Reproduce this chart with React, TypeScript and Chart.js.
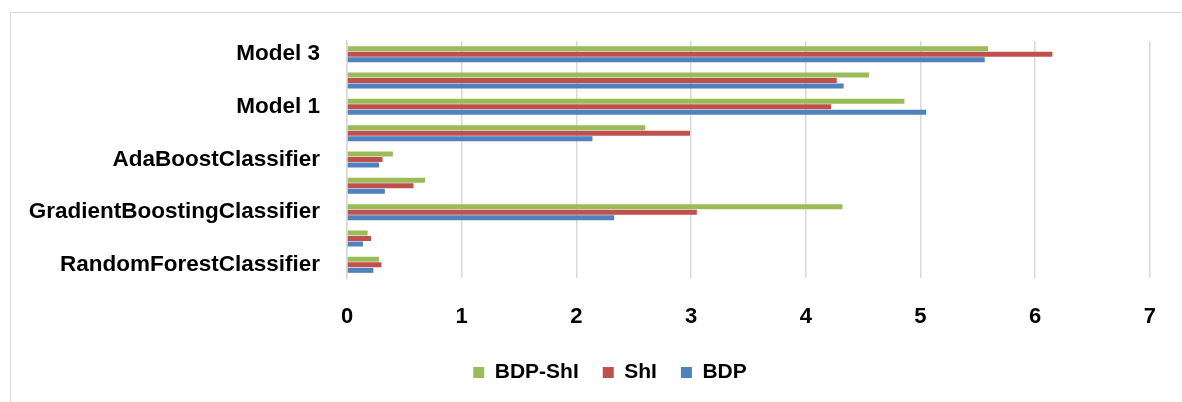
import React, { useEffect, useRef } from "react";
import { Chart, registerables } from "chart.js";

Chart.register(...registerables);

const categories = [
  "Model 3",
  "Model 2",
  "Model 1",
  "XGBClassifier",
  "AdaBoostClassifier",
  "BaggingClassifier",
  "GradientBoostingClassifier",
  "DecisionTreeClassifier",
  "RandomForestClassifier",
];

const bdpShI = [5.59, 4.55, 4.86, 2.6, 0.4, 0.68, 4.32, 0.18, 0.28];
const shI = [6.15, 4.27, 4.22, 2.99, 0.31, 0.58, 3.05, 0.21, 0.3];
const bdp = [5.56, 4.33, 5.05, 2.14, 0.28, 0.33, 2.33, 0.14, 0.23];

const xTicks = [0, 1, 2, 3, 4, 5, 6, 7];

const FONT = "'Liberation Sans', Arial, sans-serif";

const shiftLegend = {
  id: "shiftLegend",
  afterLayout(chart: any) {
    const l = chart.legend;
    if (l) {
      l.left += 26;
      l.right += 26;
    }
  },
};

export default function App() {
  const canvasRef = useRef<HTMLCanvasElement | null>(null);

  useEffect(() => {
    if (!canvasRef.current) return;
    const chart = new Chart(canvasRef.current, {
      type: "bar",
      data: {
        labels: categories,
        datasets: [
          { label: "BDP-ShI", data: bdpShI, backgroundColor: "#9BBB59" },
          { label: "ShI", data: shI, backgroundColor: "#C0504D" },
          { label: "BDP", data: bdp, backgroundColor: "#4F81BD" },
        ],
      },
      plugins: [shiftLegend],
      options: {
        indexAxis: "y",
        animation: false,
        responsive: true,
        maintainAspectRatio: false,
        datasets: {
          bar: { barPercentage: 0.9, categoryPercentage: 0.63 },
        },
        layout: { padding: { top: 41, right: 14, bottom: 9, left: 0 } },
        scales: {
          x: {
            min: 0,
            max: 7,
            afterBuildTicks: (scale: any) => {
              scale.ticks = xTicks.map((v) => ({ value: v }));
            },
            afterFit: (scale: any) => {
              scale.height = 60;
            },
            grid: { color: "#d9d9d9", lineWidth: 1.5, drawTicks: false },
            border: { display: false },
            ticks: {
              padding: 26,
              color: "#000",
              font: { family: FONT, size: 22, weight: "bold" },
            },
          },
          y: {
            afterFit: (scale: any) => {
              scale.width = 347;
            },
            grid: { display: false, drawTicks: false },
            border: { display: true, color: "#d9d9d9", width: 1.5 },
            ticks: {
              autoSkip: false,
              padding: 27,
              color: "#000",
              font: { family: FONT, size: 22.5, weight: "bold" },
              callback: (_v: any, i: number) => (i % 2 === 0 ? categories[i] : ""),
            },
          },
        },
        plugins: {
          tooltip: { enabled: false },
          legend: {
            position: "bottom",
            labels: {
              boxWidth: 11,
              boxHeight: 11,
              padding: 24,
              color: "#000",
              font: { family: FONT, size: 21, weight: "bold" },
            },
          },
        },
      },
    });
    return () => chart.destroy();
  }, []);

  return (
    <div
      style={{
        position: "fixed",
        left: 0,
        top: 0,
        width: 1182,
        height: 402,
        background: "#fff",
        overflow: "hidden",
      }}
    >
      <div
        style={{
          position: "absolute",
          left: 10,
          top: 12,
          width: 1200,
          height: 420,
          borderTop: "1.5px solid #d9d9d9",
          borderLeft: "1.5px solid #d9d9d9",
        }}
      />
      <div style={{ position: "absolute", left: 0, top: 0, width: 1182, height: 402 }}>
        <canvas ref={canvasRef} />
      </div>
    </div>
  );
}
